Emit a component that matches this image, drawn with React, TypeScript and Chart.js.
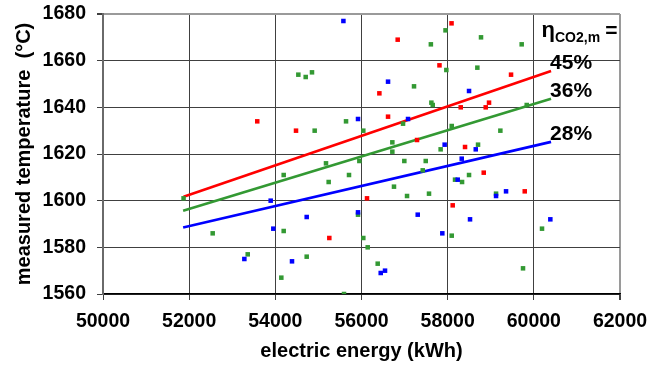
import React, { useEffect, useRef } from 'react';
import { Chart, registerables } from 'chart.js';

Chart.register(...registerables);

// ---- data ----
const redX = [53580, 56840, 57810, 56415, 56616, 54480, 57289, 58090, 59471, 58303, 58883, 58960, 58403, 56128, 55253, 58837, 59789, 58117];
const redY = [1634, 1669, 1658, 1646, 1636, 1630, 1626, 1676, 1654, 1640, 1640, 1642, 1623, 1601, 1584, 1612, 1604, 1598];

const blueX = [55580, 56616, 55919, 57080, 57930, 58496, 58652, 58326, 53892, 53953, 53281, 54728, 55919, 57305, 57876, 54387, 56446, 56546, 58233, 59123, 59355, 58519, 60383];
const blueY = [1677, 1651, 1635, 1635, 1624, 1647, 1622, 1618, 1600, 1588, 1575, 1593, 1595, 1594, 1586, 1574, 1569, 1570, 1609, 1602, 1604, 1592, 1592];

const greenX = [57950, 57610, 57969, 54534, 54705, 54851, 57219, 57622, 57653, 56964, 54913, 55641, 56042, 56716, 57837, 56716, 58774, 59718, 58689, 59835, 58094, 59223, 58705, 51870, 52546, 53359, 55176, 55950, 56994, 57491, 57421, 54194, 55710, 55238, 56754, 57057, 57567, 55919, 54194, 56042, 56144, 54728, 56376, 54139, 55594, 58496, 58171, 58334, 59123, 58094, 60190, 59749];
const greenY = [1673, 1667, 1656, 1654, 1653, 1655, 1649, 1642, 1641, 1633, 1630, 1634, 1630, 1625, 1622, 1621, 1670, 1667, 1657, 1641, 1632, 1630, 1624, 1601, 1586, 1577, 1616, 1617, 1617, 1617, 1613, 1611, 1611, 1608, 1606, 1602, 1603, 1594, 1587, 1584, 1580, 1576, 1573, 1567, 1560, 1611, 1609, 1608, 1603, 1585, 1588, 1571];

// regression lines (start, end)
const fitRedX = [51870, 60400];
const fitRedY = [1601.7, 1655.6];
const fitGreenX = [51860, 60400];
const fitGreenY = [1595.7, 1643.7];
const fitBlueX = [51860, 60400];
const fitBlueY = [1588.5, 1625.2];

const fitLabels = ['45%', '36%', '28%'];
const legendMain = 'η';
const legendSub = 'CO2,m';
const legendEq = '=';

const xTitle = 'electric energy (kWh)';
const yTitle = 'measured temperature  (°C)';
const xMin = 50000, xMax = 62000, xStep = 2000;
const yMin = 1560, yMax = 1680, yStep = 20;

const RED = '#ff0000';
const BLUE = '#0000ff';
const GREEN = '#339933';
const FAMILY = '"Liberation Sans", Arial, Helvetica, sans-serif';

const zip = (xs: number[], ys: number[]) => xs.map((x, i) => ({ x, y: ys[i] }));

const annotPlugin = {
  id: 'annot',
  afterDatasetsDraw(chart: any) {
    const ctx = chart.ctx;
    const xs = chart.scales.x;
    const ys = chart.scales.y;
    const fits = [
      [fitRedX, fitRedY],
      [fitGreenX, fitGreenY],
      [fitBlueX, fitBlueY],
    ];
    ctx.save();
    ctx.fillStyle = '#000';
    ctx.textAlign = 'left';
    ctx.textBaseline = 'alphabetic';
    ctx.font = `bold 21px ${FAMILY}`;
    fits.forEach(([fx, fy], i) => {
      const px = xs.getPixelForValue(fx[1]);
      const py = ys.getPixelForValue(fy[1]);
      ctx.fillText(fitLabels[i], px - 1, py - 1.5);
    });
    // eta label
    const ex = xs.getPixelForValue(fitRedX[1]) - 9.5;
    const ey = chart.chartArea.top + 23;
    ctx.font = `bold 22px ${FAMILY}`;
    ctx.fillText(legendMain, ex, ey);
    let cx = ex + ctx.measureText(legendMain).width;
    ctx.font = `bold 14px ${FAMILY}`;
    ctx.fillText(legendSub, cx, ey + 4.7);
    cx += ctx.measureText(legendSub).width + 5;
    ctx.font = `bold 21px ${FAMILY}`;
    ctx.fillText(legendEq, cx, ey);
    ctx.restore();
  },
};

export default function App() {
  const ref = useRef<HTMLCanvasElement | null>(null);
  useEffect(() => {
    if (!ref.current) return;
    const chart = new Chart(ref.current, {
      type: 'scatter',
      data: {
        datasets: [
          { type: 'line', data: zip(fitRedX, fitRedY), borderColor: RED, borderWidth: 2.6, pointRadius: 0, fill: false, order: 5 },
          { type: 'line', data: zip(fitGreenX, fitGreenY), borderColor: GREEN, borderWidth: 2.6, pointRadius: 0, fill: false, order: 5 },
          { type: 'line', data: zip(fitBlueX, fitBlueY), borderColor: BLUE, borderWidth: 2.6, pointRadius: 0, fill: false, order: 5 },
          { data: zip(greenX, greenY), backgroundColor: GREEN, borderWidth: 0, pointStyle: 'rect', pointRadius: 3.2, order: 3 },
          { data: zip(redX, redY), backgroundColor: RED, borderWidth: 0, pointStyle: 'rect', pointRadius: 3.2, order: 2 },
          { data: zip(blueX, blueY), backgroundColor: BLUE, borderWidth: 0, pointStyle: 'rect', pointRadius: 3.2, order: 1 },
        ] as any,
      },
      options: {
        responsive: false,
        animation: false,
        events: [],
        layout: { padding: { top: 14, right: 36, left: 0, bottom: 0 } },
        plugins: { legend: { display: false }, tooltip: { enabled: false } },
        scales: {
          x: {
            type: 'linear',
            min: xMin,
            max: xMax,
            afterFit: (s: any) => { s.height = 71; s.paddingLeft = 0; s.paddingRight = 0; },
            ticks: {
              stepSize: xStep,
              color: '#000',
              padding: 10,
              font: { family: FAMILY, size: 19.5, weight: 'bold' },
              callback: (v: any) => String(v),
            },
            grid: {
              color: (c: any) => (c.tick && c.tick.value === xMax ? '#9a9a9a' : '#404040'),
              lineWidth: (c: any) => (c.tick && c.tick.value === xMax ? 2 : 1),
              tickColor: '#404040',
              tickLength: 6,
            },
            border: { color: '#000', width: 1.5 },
            title: {
              display: true,
              text: xTitle,
              color: '#000',
              font: { family: FAMILY, size: 20, weight: 'bold' },
              padding: { top: 0, bottom: 2 },
            },
          },
          y: {
            type: 'linear',
            min: yMin,
            max: yMax,
            afterFit: (s: any) => { s.width = 103; s.paddingTop = 0; s.paddingBottom = 0; },
            ticks: {
              stepSize: yStep,
              color: '#000',
              padding: 11,
              font: { family: FAMILY, size: 19.5, weight: 'bold' },
              callback: (v: any) => String(v),
            },
            grid: {
              color: (c: any) => (c.tick && c.tick.value === yMax ? '#9a9a9a' : '#404040'),
              lineWidth: (c: any) => (c.tick && c.tick.value === yMax ? 2 : 1),
              tickColor: '#404040',
              tickLength: 6,
            },
            border: { color: '#6a6a6a', width: 2 },
            title: {
              display: true,
              text: yTitle,
              color: '#000',
              font: { family: FAMILY, size: 20, weight: 'bold' },
              padding: { top: 12, bottom: 0 },
            },
          },
        },
      } as any,
      plugins: [annotPlugin],
    });
    return () => chart.destroy();
  }, []);
  return (
    <div style={{ position: 'fixed', left: 0, top: 0, width: 656, height: 365, background: '#fff' }}>
      <canvas ref={ref} width={656} height={365} style={{ display: 'block' }} />
    </div>
  );
}
